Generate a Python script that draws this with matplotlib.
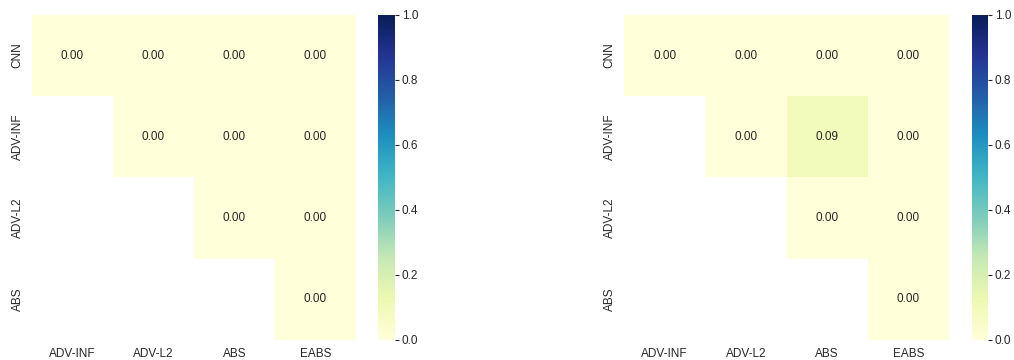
import numpy as np
import matplotlib
matplotlib.use("Agg")
import matplotlib.pyplot as plt
import seaborn as sns

# row / column model names for the pairwise tables
row_labels = ["CNN", "ADV-INF", "ADV-L2", "ABS"]
col_labels = ["ADV-INF", "ADV-L2", "ABS", "EABS"]

# upper-triangular p-values, nan below the diagonal
left_vals = [
    [0.00, 0.00, 0.00, 0.00],
    [np.nan, 0.00, 0.00, 0.00],
    [np.nan, np.nan, 0.00, 0.00],
    [np.nan, np.nan, np.nan, 0.00],
]
right_vals = [
    [0.00, 0.00, 0.00, 0.00],
    [np.nan, 0.00, 0.09, 0.00],
    [np.nan, np.nan, 0.00, 0.00],
    [np.nan, np.nan, np.nan, 0.00],
]


def draw(fig, vals, ax_rect, cbar_rect):
    ax = fig.add_axes(ax_rect)
    cax = fig.add_axes(cbar_rect)
    data = np.array(vals, dtype=float)
    mask = np.isnan(data)
    sns.heatmap(data, mask=mask, annot=True, fmt=".2f", cmap="YlGnBu",
                vmin=0, vmax=1, ax=ax, cbar_ax=cax,
                xticklabels=col_labels, yticklabels=row_labels,
                annot_kws={"size": 8.5})
    ax.tick_params(length=0, labelsize=8.5, pad=6)
    ax.set_yticklabels(row_labels, rotation=90, va="center")
    cax.tick_params(length=3, width=0.8, labelsize=8.5, pad=2)
    cax.set_yticks([0.0, 0.2, 0.4, 0.6, 0.8, 1.0])
    for s in cax.spines.values():
        s.set_visible(False)


sns.set_style("white")
plt.rcParams["font.family"] = ["Liberation Sans", "DejaVu Sans"]

fig = plt.figure(figsize=(10.14, 3.6), dpi=100)
draw(fig, left_vals, [0.0316, 0.0556, 0.3195, 0.903], [0.3728, 0.0556, 0.0168, 0.903])
draw(fig, right_vals, [0.6154, 0.0556, 0.3205, 0.903], [0.9586, 0.0556, 0.0158, 0.903])

fig.savefig("out.png", dpi=100)
